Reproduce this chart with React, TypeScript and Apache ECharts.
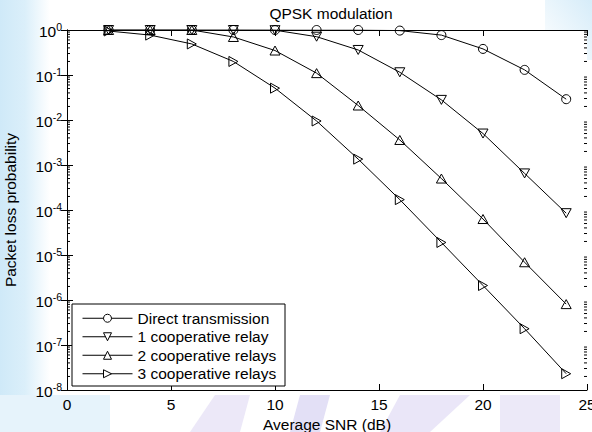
import React, { useEffect, useRef } from "react";
import * as echarts from "echarts";

const snr = [2, 4, 6, 8, 10, 12, 14, 16, 18, 20, 22, 24];
const directTx = [1, 1, 1, 1, 1, 1, 1, 0.97, 0.77, 0.38, 0.13, 0.029];
const relay1 = [1, 1, 1, 1, 0.99, 0.71, 0.36, 0.115, 0.028, 0.005, 6.5e-4, 8.5e-5];
const relay2 = [1, 1, 1, 0.7, 0.35, 0.11, 0.021, 0.0036, 5e-4, 6.3e-5, 6.9e-6, 8.1e-7];
const relay3 = [0.95, 0.77, 0.49, 0.2, 0.051, 0.0095, 0.00135, 1.7e-4, 1.9e-5, 2.1e-6, 2.3e-7, 2.3e-8];
const seriesNames = [
  "Direct transmission",
  "1 cooperative relay",
  "2 cooperative relays",
  "3 cooperative relays",
];
const symbols = [
  "circle",
  "path://M0,0L10,0L5,9Z",
  "path://M5,0L10,9L0,9Z",
  "path://M0,0L9,5L0,10Z",
];
const seriesData = [directTx, relay1, relay2, relay3];
const xMin = 0;
const xMax = 25;
const xStep = 5;
const yMinExp = -8;
const yMaxExp = 0;
const minorMultipliers = [2, 3, 4, 5, 6, 7, 8, 9];

const FONT = "Liberation Sans";
const FS = 15.5;

export default function App() {
  const ref = useRef<HTMLDivElement>(null);
  useEffect(() => {
    if (!ref.current) return;
    const chart = echarts.init(ref.current, undefined, { renderer: "svg" });

    const minorVals: number[][] = [];
    for (let e = yMinExp; e < yMaxExp; e++) {
      for (const m of minorMultipliers) minorVals.push([xMin, m * Math.pow(10, e)]);
    }

    const lineSeries = seriesData.map((d, i) => ({
      name: seriesNames[i],
      type: "line",
      data: snr.map((x, j) => [x, d[j]]),
      symbol: symbols[i],
      symbolSize: i === 0 ? 9 : 10,
      symbolKeepAspect: true,
      showAllSymbol: true,
      lineStyle: { color: "#000", width: 1 },
      itemStyle: { color: "rgba(0,0,0,0)", borderColor: "#000", borderWidth: 1 },
      emphasis: { disabled: true },
      z: 3,
    }));

    const yLabel = (v: number) => {
      const e = Math.round(Math.log10(v));
      return `{b|10}{s|${e}}`;
    };

    chart.setOption({
      animation: false,
      backgroundColor: "#fff",
      title: {
        text: "QPSK modulation",
        left: 326,
        top: 0,
        textAlign: "center",
        textStyle: { fontFamily: FONT, fontSize: FS, fontWeight: "normal", color: "#000" },
      },
      grid: { left: 67, right: 5, top: 30, bottom: 42, containLabel: false, outerBoundsMode: "none" },
      legend: {
        orient: "vertical",
        left: 82,
        top: 309,
        itemWidth: 50,
        itemHeight: 10,
        itemGap: 0,
        padding: 0,
        itemStyle: { color: "#fff", borderColor: "#000", borderWidth: 1 },
        lineStyle: { color: "#000", width: 1 },
        textStyle: { fontFamily: FONT, fontSize: FS, color: "#000", lineHeight: 18.5 },
        data: seriesNames,
        z: 6,
      },
      xAxis: [
        {
          type: "value",
          min: xMin,
          max: xMax,
          interval: xStep,
          position: "bottom",
          name: "Average SNR (dB)",
          nameLocation: "middle",
          nameGap: 21,
          nameTextStyle: { fontFamily: FONT, fontSize: FS, color: "#000" },
          axisLine: { lineStyle: { color: "#000", width: 1 } },
          axisTick: { inside: true, length: 6, lineStyle: { color: "#000" } },
          axisLabel: { fontFamily: FONT, fontSize: FS, color: "#000", margin: 6 },
          splitLine: { show: false },
        },
        {
          type: "value",
          min: xMin,
          max: xMax,
          interval: xStep,
          position: "top",
          axisLine: { lineStyle: { color: "#000", width: 1 } },
          axisTick: { inside: true, length: 6, lineStyle: { color: "#000" } },
          axisLabel: { show: false },
          splitLine: { show: false },
        },
      ],
      yAxis: [
        {
          type: "log",
          logBase: 10,
          min: Math.pow(10, yMinExp),
          max: Math.pow(10, yMaxExp),
          splitNumber: 8,
          position: "left",
          name: "Packet loss probability",
          nameLocation: "middle",
          nameGap: 49,
          nameTextStyle: { fontFamily: FONT, fontSize: FS, color: "#000" },
          axisLine: { show: true, lineStyle: { color: "#000", width: 1 } },
          axisTick: { inside: true, length: 6, lineStyle: { color: "#000" } },
          axisLabel: {
            formatter: yLabel,
            margin: 5,
            rich: {
              b: { fontFamily: FONT, fontSize: FS, color: "#000", lineHeight: 18, verticalAlign: "bottom" },
              s: { fontFamily: FONT, fontSize: 10.5, color: "#000", lineHeight: 10, verticalAlign: "top" },
            },
          },
          splitLine: { show: false },
        },
        {
          type: "log",
          logBase: 10,
          min: Math.pow(10, yMinExp),
          max: Math.pow(10, yMaxExp),
          splitNumber: 8,
          position: "right",
          axisLine: { show: true, lineStyle: { color: "#000", width: 1 } },
          axisTick: { inside: true, length: 6, lineStyle: { color: "#000" } },
          axisLabel: { show: false },
          splitLine: { show: false },
        },
      ],
      graphic: [
        {
          type: "rect",
          z: -10,
          shape: { x: 0, y: 0, width: 50, height: 432 },
          style: {
            fill: new echarts.graphic.LinearGradient(0, 0, 1, 0, [
              { offset: 0, color: "#cfe9f8" },
              { offset: 0.5, color: "#dbeffa" },
              { offset: 1, color: "#ffffff" },
            ]),
          },
        },
        {
          type: "rect",
          z: -10,
          shape: { x: 545, y: 0, width: 47, height: 60 },
          style: {
            fill: new echarts.graphic.LinearGradient(0, 1, 1, 0, [
              { offset: 0, color: "#ffffff" },
              { offset: 1, color: "#d6ecf9" },
            ]),
          },
        },
        {
          type: "polygon",
          z: -10,
          shape: { points: [[190, 432], [215, 395], [250, 395], [240, 432]] },
          style: { fill: "#ece8f8" },
        },
        {
          type: "polygon",
          z: -10,
          shape: { points: [[300, 395], [330, 395], [320, 432], [290, 432]] },
          style: { fill: "#e3e0f6" },
        },
        {
          type: "polygon",
          z: -10,
          shape: { points: [[400, 395], [470, 395], [430, 432], [380, 432]] },
          style: { fill: "#eae6f8" },
        },
        {
          type: "rect",
          z: -10,
          shape: { x: 500, y: 395, width: 60, height: 37 },
          style: { fill: "#ece9f8" },
        },
        {
          type: "rect",
          z: -10,
          shape: { x: 0, y: 395, width: 110, height: 37 },
          style: { fill: "#e6f3fb" },
        },
        {
          type: "rect",
          z: -9,
          shape: { x: 67, y: 30, width: 520, height: 360 },
          style: { fill: "#ffffff" },
        },
        {
          type: "rect",
          z: 5,
          shape: { x: 72, y: 304, width: 213, height: 82 },
          style: { fill: "#ffffff", stroke: "#000", lineWidth: 1 },
        },
      ],
      series: [
        ...lineSeries,
        {
          type: "custom",
          silent: true,
          clip: false,
          data: minorVals,
          encode: { x: 0, y: 1 },
          renderItem: (_p: any, api: any) => {
            const v = api.value(1);
            const l = api.coord([xMin, v]);
            const r = api.coord([xMax, v]);
            return {
              type: "group",
              children: [
                { type: "line", shape: { x1: l[0], y1: l[1], x2: l[0] + 3, y2: l[1] }, style: { stroke: "#000", lineWidth: 1 } },
                { type: "line", shape: { x1: r[0], y1: r[1], x2: r[0] - 3, y2: r[1] }, style: { stroke: "#000", lineWidth: 1 } },
              ],
            };
          },
          z: 2,
        },
      ],
    });
    return () => chart.dispose();
  }, []);
  return <div ref={ref} style={{ width: 592, height: 432, position: "fixed", left: 0, top: 0 }} />;
}
